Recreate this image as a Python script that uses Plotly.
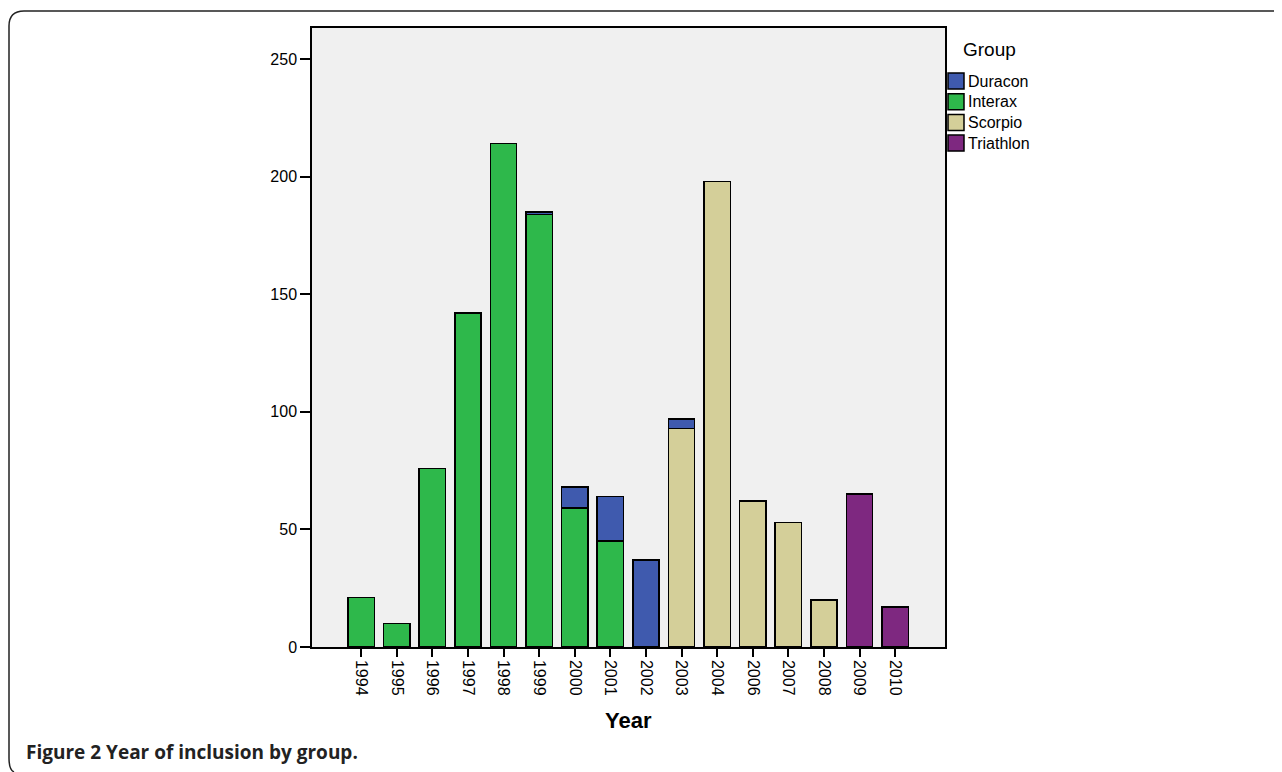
import plotly.graph_objects as go

years = ["1994", "1995", "1996", "1997", "1998", "1999", "2000", "2001",
         "2002", "2003", "2004", "2006", "2007", "2008", "2009", "2010"]
duracon = [0, 0, 0, 0, 0, 1, 9, 19, 37, 4, 0, 0, 0, 0, 0, 0]
interax = [21, 10, 76, 142, 214, 184, 59, 45, 0, 0, 0, 0, 0, 0, 0, 0]
scorpio = [0, 0, 0, 0, 0, 0, 0, 0, 0, 93, 198, 62, 53, 20, 0, 0]
triathlon = [0, 0, 0, 0, 0, 0, 0, 0, 0, 0, 0, 0, 0, 0, 65, 17]
groups = ["Duracon", "Interax", "Scorpio", "Triathlon"]

colors = {"Duracon": "#3F5AAE", "Interax": "#2EB84B",
          "Scorpio": "#D4CF99", "Triathlon": "#7E2880"}

fig = go.Figure()
# stacking order: bottom first
for name, vals in [("Interax", interax), ("Scorpio", scorpio),
                   ("Triathlon", triathlon), ("Duracon", duracon)]:
    xs = [y for y, v in zip(years, vals) if v > 0]
    vs = [v for v in vals if v > 0]
    fig.add_trace(go.Bar(x=xs, y=vs, name=name, showlegend=False,
                         marker=dict(color=colors[name],
                                     line=dict(color="black", width=1.5)),
                         width=0.74))

# page is shifted by the 8px body margin
OFF = 8
L, R, T, B = 312 - OFF, 945 - OFF, 28 - OFF, 647 - OFF
W, H = R - L, B - T
def px(x):
    return (x - OFF - L) / W
def py(y):
    return (B - (y - OFF)) / H

frame = (f"M {px(1300)},{py(11)} L {px(24)},{py(11)} "
         f"Q {px(9)},{py(11)} {px(9)},{py(26)} "
         f"L {px(9)},{py(758)} Q {px(9)},{py(770)} {px(14)},{py(772)}")

shapes = [dict(type="path", xref="paper", yref="paper", path=frame,
               line=dict(color="#222222", width=1.5), layer="above")]
annotations = [
    dict(xref="paper", yref="paper", x=px(24), y=py(752),
         xanchor="left", yanchor="middle", showarrow=False,
         text="<b>Figure 2</b> <b>Year of inclusion by group.</b>",
         font=dict(family="Open Sans, sans-serif", size=19, color="#222222")),
    dict(xref="paper", yref="paper", x=px(628), y=py(720),
         xanchor="center", yanchor="middle", showarrow=False,
         text="<b>Year</b>",
         font=dict(family="Liberation Sans, Arial, sans-serif", size=22,
                   color="black")),
    dict(xref="paper", yref="paper", x=px(961), y=py(49),
         xanchor="left", yanchor="middle", showarrow=False,
         text="Group",
         font=dict(family="Liberation Sans, Arial, sans-serif", size=19,
                   color="black")),
]
# custom legend
for i, g in enumerate(groups):
    cy = 81 + i * 20.7
    shapes.append(dict(type="rect", xref="paper", yref="paper",
                       x0=px(948), x1=px(964), y0=py(cy - 8), y1=py(cy + 8),
                       fillcolor=colors[g], line=dict(color="black", width=1.5)))
    annotations.append(dict(xref="paper", yref="paper", x=px(966), y=py(cy),
                            xanchor="left", yanchor="middle", showarrow=False,
                            text=g,
                            font=dict(family="Liberation Sans, Arial, sans-serif",
                                      size=16, color="black")))

fig.update_layout(
    width=1282, height=772,
    paper_bgcolor="white", plot_bgcolor="#F0F0F0",
    barmode="stack", showlegend=False,
    margin=dict(l=L, r=1282 - R, t=T, b=772 - B),
    font=dict(family="Liberation Sans, Arial, sans-serif", color="black", size=16),
    xaxis=dict(type="category", categoryorder="array", categoryarray=years,
               range=[-1.38, 16.4], tickangle=90, ticks="outside", ticklen=8,
               tickwidth=1.5, tickcolor="black", showline=True, linecolor="black",
               linewidth=1.5, mirror=True, showgrid=False,
               tickfont=dict(size=16, color="black")),
    yaxis=dict(range=[0, 263.2], tickvals=[0, 50, 100, 150, 200, 250],
               ticks="outside", ticklen=10, tickwidth=1.5, tickcolor="black",
               showline=True, linecolor="black", linewidth=1.5, mirror=True,
               showgrid=False, zeroline=False,
               tickfont=dict(size=16, color="black")),
    shapes=shapes,
    annotations=annotations,
)

fig.write_html("out.html")
